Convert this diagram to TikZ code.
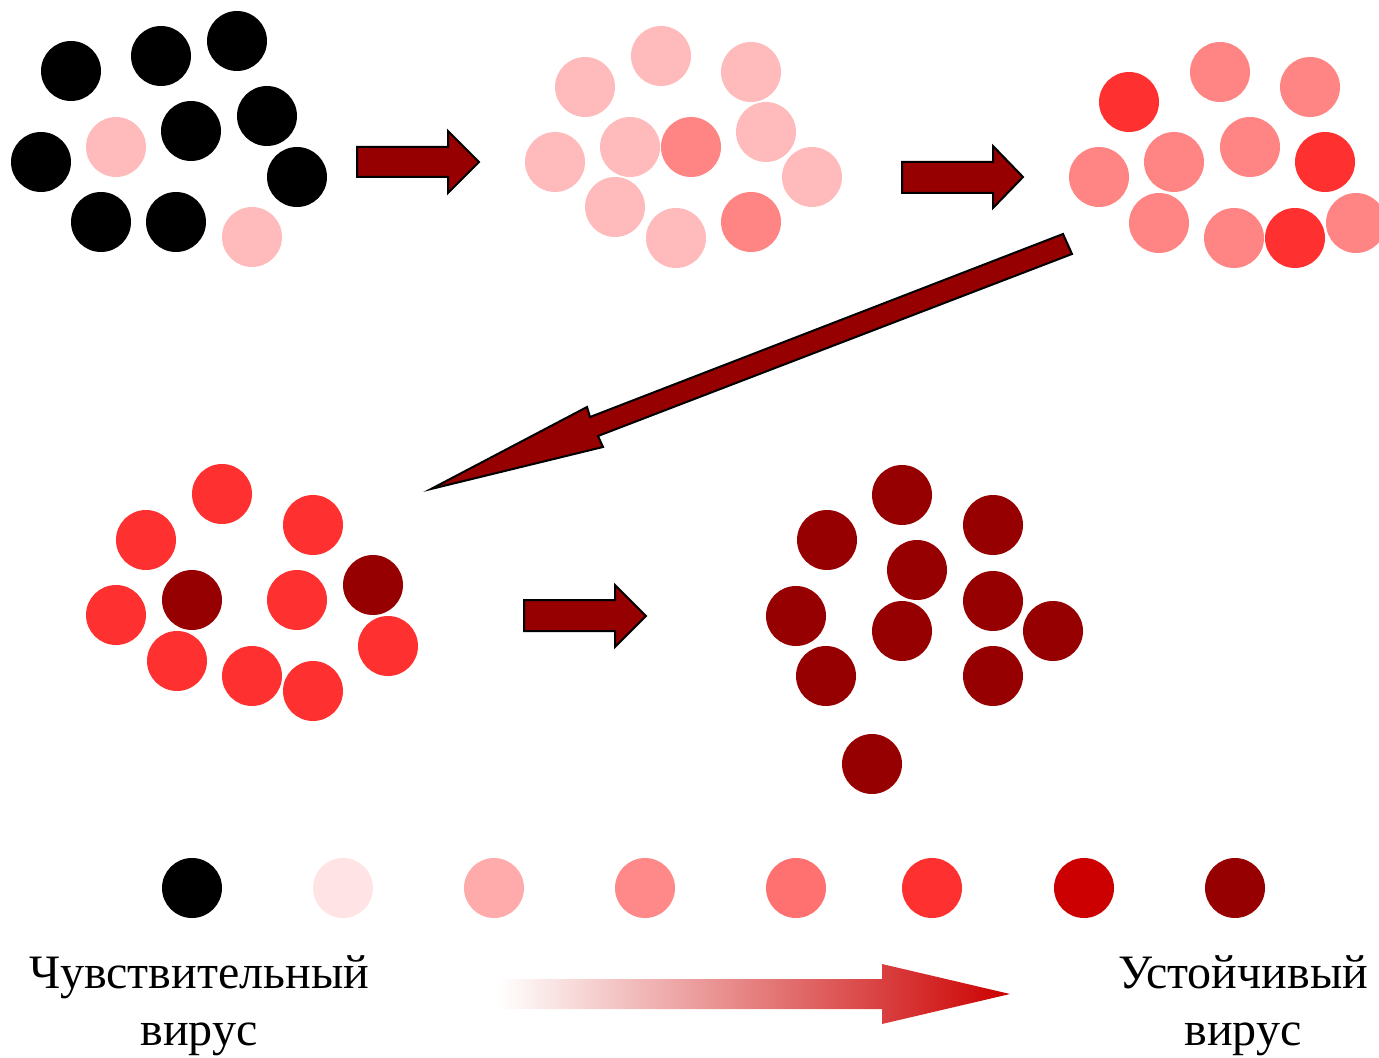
\documentclass[tikz,border=0pt]{standalone}
\usepackage{fontspec}
\setmainfont{Liberation Serif}
\definecolor{pale}{HTML}{FFE3E5}
\definecolor{blush}{HTML}{FFBBBB}
\definecolor{rose}{HTML}{FFABAB}
\definecolor{salmon}{HTML}{FF8484}
\definecolor{coral}{HTML}{FF7070}
\definecolor{bright}{HTML}{FF3030}
\definecolor{crimson}{HTML}{CC0000}
\definecolor{maroon}{HTML}{960000}
\tikzset{
  virus/.style={circle, minimum size=30pt, inner sep=0pt, draw=none},
  blockarrow/.style={fill=maroon, draw=black, line width=1pt, line join=miter},
  legendtext/.style={align=center, inner sep=0pt, anchor=north,
    font=\fontsize{24}{28.5}\selectfont},
}

\begin{document}
\begin{tikzpicture}[x=0.5pt, y=-0.5pt]
  \useasboundingbox (0,0) rectangle (1379,1058);

  % first population: sensitive
  \node (a1) [virus, fill=black] at (71,71) {};
  \node (a2) [virus, fill=black] at (161,56) {};
  \node (a3) [virus, fill=black] at (237,41) {};
  \node (a4) [virus, fill=black] at (41,162) {};
  \node (a5) [virus, fill=blush] at (116,147) {};
  \node (a6) [virus, fill=black] at (191,131) {};
  \node (a7) [virus, fill=black] at (267,116) {};
  \node (a8) [virus, fill=black] at (297,177) {};
  \node (a9) [virus, fill=black] at (101,222) {};
  \node (a10) [virus, fill=black] at (176,222) {};
  \node (a11) [virus, fill=blush] at (252,237) {};

  % second population
  \node (b1) [virus, fill=blush] at (585,87) {};
  \node (b2) [virus, fill=blush] at (661,56) {};
  \node (b3) [virus, fill=blush] at (751,72) {};
  \node (b4) [virus, fill=blush] at (555,162) {};
  \node (b5) [virus, fill=blush] at (630,147) {};
  \node (b6) [virus, fill=salmon] at (691,147) {};
  \node (b7) [virus, fill=blush] at (766,132) {};
  \node (b8) [virus, fill=blush] at (812,177) {};
  \node (b9) [virus, fill=blush] at (615,207) {};
  \node (b10) [virus, fill=blush] at (676,238) {};
  \node (b11) [virus, fill=salmon] at (751,222) {};

  % third population
  \node (c1) [virus, fill=bright] at (1129,102) {};
  \node (c2) [virus, fill=salmon] at (1220,72) {};
  \node (c3) [virus, fill=salmon] at (1310,87) {};
  \node (c4) [virus, fill=salmon] at (1099,177) {};
  \node (c5) [virus, fill=salmon] at (1174,162) {};
  \node (c6) [virus, fill=salmon] at (1250,147) {};
  \node (c7) [virus, fill=bright] at (1325,162) {};
  \node (c8) [virus, fill=salmon] at (1159,223) {};
  \node (c9) [virus, fill=salmon] at (1234,238) {};
  \node (c10) [virus, fill=bright] at (1295,238) {};
  \node (c11) [virus, fill=salmon] at (1356,223) {};

  % fourth population
  \node (d1) [virus, fill=bright] at (222,494) {};
  \node (d2) [virus, fill=bright] at (146,540) {};
  \node (d3) [virus, fill=bright] at (313,525) {};
  \node (d4) [virus, fill=bright] at (116,615) {};
  \node (d5) [virus, fill=maroon] at (192,600) {};
  \node (d6) [virus, fill=bright] at (297,600) {};
  \node (d7) [virus, fill=maroon] at (373,585) {};
  \node (d8) [virus, fill=bright] at (388,646) {};
  \node (d9) [virus, fill=bright] at (177,661) {};
  \node (d10) [virus, fill=bright] at (252,676) {};
  \node (d11) [virus, fill=bright] at (313,691) {};

  % fifth population: resistant
  \node (e1) [virus, fill=maroon] at (902,495) {};
  \node (e2) [virus, fill=maroon] at (827,540) {};
  \node (e3) [virus, fill=maroon] at (993,525) {};
  \node (e4) [virus, fill=maroon] at (917,570) {};
  \node (e5) [virus, fill=maroon] at (796,616) {};
  \node (e6) [virus, fill=maroon] at (902,631) {};
  \node (e7) [virus, fill=maroon] at (993,601) {};
  \node (e8) [virus, fill=maroon] at (1053,631) {};
  \node (e9) [virus, fill=maroon] at (826,676) {};
  \node (e10) [virus, fill=maroon] at (993,676) {};
  \node (e11) [virus, fill=maroon] at (872,764) {};

  % block arrows
  \draw[blockarrow] (357,147) -- (448,147) -- (448,131) -- (479,162)
    -- (448,193) -- (448,177) -- (357,177) -- cycle;
  \draw[blockarrow] (902,162) -- (993,162) -- (993,146) -- (1023,177)
    -- (993,208) -- (993,193) -- (902,193) -- cycle;
  \draw[blockarrow] (1063,234) -- (590,417) -- (587,407) -- (431,489)
    -- (603,447) -- (598,436) -- (1072,254) -- cycle;
  \draw[blockarrow] (524,600) -- (615,600) -- (615,585) -- (646,616)
    -- (615,647) -- (615,631) -- (524,631) -- cycle;

  % legend scale
  \node (k0) [virus, fill=black] at (192,888) {};
  \node (k1) [virus, fill=pale] at (343,888) {};
  \node (k2) [virus, fill=rose] at (494,888) {};
  \node (k3) [virus, fill=salmon!90!rose] at (645,888) {};
  \node (k4) [virus, fill=coral] at (796,888) {};
  \node (k5) [virus, fill=bright] at (932,888) {};
  \node (k6) [virus, fill=crimson] at (1084,888) {};
  \node (k7) [virus, fill=maroon] at (1235,888) {};

  \node (sens) [legendtext] at (199,955) {Чувствительный\\вирус};
  \node (resist) [legendtext] at (1243,955) {Устойчивый\\вирус};

  \shade[left color=white, right color=crimson] (498,979) -- (882,979)
    -- (882,964) -- (1010,994) -- (882,1024) -- (882,1009) -- (498,1009) -- cycle;
\end{tikzpicture}
\end{document}
